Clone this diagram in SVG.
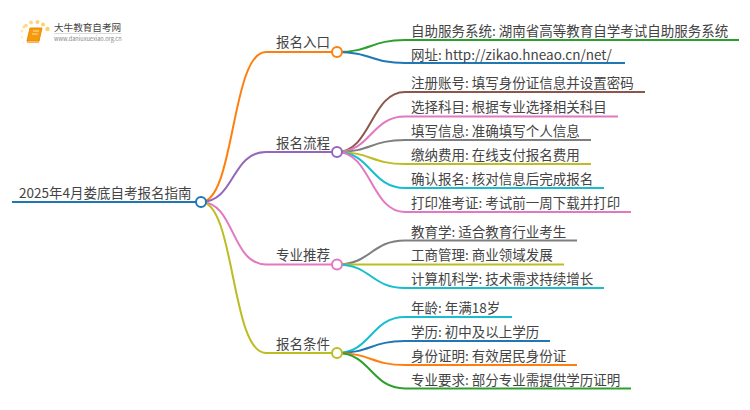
<svg xmlns="http://www.w3.org/2000/svg" width="750" height="410" viewBox="0 0 750 410">
<style>
text{font-family:"Noto Sans CJK SC","Noto Sans",sans-serif;font-size:13.5px;fill:#444}
.c{fill:none;stroke-width:2}
.n{fill:#fff;stroke-width:2}
.bl{stroke:#1f77b4}.or{stroke:#ff7f0e}.gr{stroke:#2ca02c}.pu{stroke:#9467bd}.br{stroke:#8c564b}.pk{stroke:#e377c2}.gy{stroke:#7f7f7f}.ol{stroke:#bcbd22}.cy{stroke:#17becf}
</style>
<g id="logo">
<circle cx="24" cy="27" r="1.8" fill="#fde3a0"/><circle cx="26" cy="25" r="0" fill="#fde3a0"/>
<circle cx="22" cy="31" r="1.5" fill="#fde9b8"/><circle cx="26" cy="25.500" r="1.800" fill="#fdd98a"/><circle cx="31" cy="22.500" r="2" fill="#fdd98a"/><circle cx="37.500" cy="22" r="2" fill="#fdd070"/><circle cx="43" cy="24.500" r="2" fill="#fdd070"/><circle cx="47.500" cy="29" r="2.200" fill="#fdd070"/><circle cx="22" cy="37" r="1.200" fill="#fdeec8"/><circle cx="23.500" cy="42.500" r="1" fill="#fdf1d4"/>
<path d="M30 28H42L39 41H27Z" fill="#f59a0c" stroke="#f08a00" stroke-width="1"/><path d="M27 41H39L38.500 42.500H27.500Z" fill="#fbd9a0" stroke="#f08a00" stroke-width=".6"/><path d="M33 31H39M32 34H38" stroke="#ffe2a8" stroke-width="1"/>
<text x="54" y="31" style="font-size:9.600px;fill:#444">大牛教育自考网</text>
<path d="M54 33.500H121" stroke="#ccc" stroke-width=".7"/>
<text x="54" y="41" style="font-size:5.600px;fill:#888">www.daniuxuexiao.org.cn</text>
</g>
<g id="connectors">
<path class="c bl" d="M12 202H201"/>
<path class="c or" d="M201 202C235 202 231 52 266 52H337"/>
<path class="c pu" d="M201 202C235 202 231 152 266 152H337"/>
<path class="c pk" d="M201 202C235 202 231 264.500 266 264.500H337"/>
<path class="c ol" d="M201 202C235 202 231 353 266 353H337"/>
<path class="c gr" d="M337 52C371 52 371 40 405 40H739"/>
<path class="c bl" d="M337 52C371 52 371 63 405 63H625"/>
<path class="c br" d="M337 152C371 152 371 92 405 92H645"/>
<path class="c pk" d="M337 152C371 152 371 116.500 405 116.500H618"/>
<path class="c gy" d="M337 152C371 152 371 140 405 140H591"/>
<path class="c ol" d="M337 152C371 152 371 164 405 164H591"/>
<path class="c cy" d="M337 152C371 152 371 188 405 188H604"/>
<path class="c pk" d="M337 152C371 152 371 212 405 212H631"/>
<path class="c gy" d="M337 264.500C371 264.500 371 240.500 405 240.500H577"/>
<path class="c ol" d="M337 264.500C371 264.500 371 264.500 405 264.500H564"/>
<path class="c cy" d="M337 264.500C371 264.500 371 288 405 288H604"/>
<path class="c cy" d="M337 353C371 353 371 317 405 317H512"/>
<path class="c bl" d="M337 353C371 353 371 341 405 341H550"/>
<path class="c or" d="M337 353C371 353 371 365 405 365H577"/>
<path class="c gr" d="M337 353C371 353 371 388.500 405 388.500H631"/>
</g>
<g id="root"><text x="19" y="198">2025年4月娄底自考报名指南</text><circle class="n bl" cx="201" cy="202" r="5"/></g>
<g id="b1"><text x="276" y="47">报名入口</text><circle class="n or" cx="337" cy="52" r="5"/></g>
<g id="b2"><text x="276" y="148">报名流程</text><circle class="n pu" cx="337" cy="152" r="5"/></g>
<g id="b3"><text x="276" y="260">专业推荐</text><circle class="n pk" cx="337" cy="264.500" r="5"/></g>
<g id="b4"><text x="276" y="349">报名条件</text><circle class="n ol" cx="337" cy="353" r="5"/></g>
<g id="l1"><text x="411" y="36">自助服务系统: 湖南省高等教育自学考试自助服务系统</text></g>
<g id="l2"><text x="411" y="60">网址: http://zikao.hneao.cn/net/</text></g>
<g id="l3"><text x="411" y="88">注册账号: 填写身份证信息并设置密码</text></g>
<g id="l4"><text x="411" y="112">选择科目: 根据专业选择相关科目</text></g>
<g id="l5"><text x="411" y="136">填写信息: 准确填写个人信息</text></g>
<g id="l6"><text x="411" y="160">缴纳费用: 在线支付报名费用</text></g>
<g id="l7"><text x="411" y="184">确认报名: 核对信息后完成报名</text></g>
<g id="l8"><text x="411" y="208">打印准考证: 考试前一周下载并打印</text></g>
<g id="l9"><text x="411" y="237">教育学: 适合教育行业考生</text></g>
<g id="l10"><text x="411" y="260">工商管理: 商业领域发展</text></g>
<g id="l11"><text x="411" y="284">计算机科学: 技术需求持续增长</text></g>
<g id="l12"><text x="411" y="313">年龄: 年满18岁</text></g>
<g id="l13"><text x="411" y="337">学历: 初中及以上学历</text></g>
<g id="l14"><text x="411" y="361">身份证明: 有效居民身份证</text></g>
<g id="l15"><text x="411" y="385">专业要求: 部分专业需提供学历证明</text></g>
</svg>
